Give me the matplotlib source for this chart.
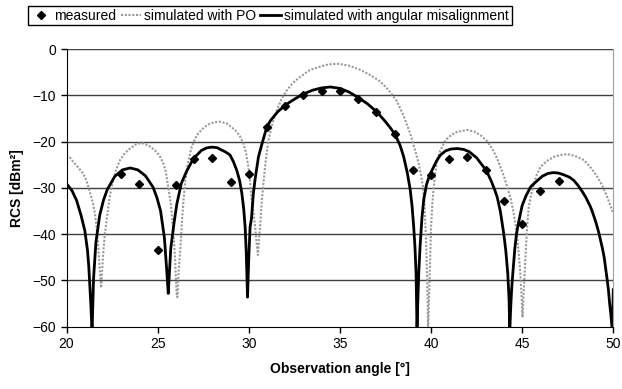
import matplotlib.pyplot as plt
import numpy as np

plt.rcParams['font.family'] = ['Liberation Sans', 'DejaVu Sans']

# measured points
meas_x = [23, 24, 25, 26, 27, 28, 29, 30, 31, 32, 33, 34, 35, 36, 37, 38, 39,
          40, 41, 42, 43, 44, 45, 46, 47]
meas_y = [-27.1, -29.2, -43.4, -29.4, -23.7, -23.5, -28.7, -26.9, -16.8, -12.3,
          -10.0, -9.1, -9.1, -10.7, -13.6, -18.4, -26.2, -27.3, -23.7, -23.4,
          -26.1, -32.8, -37.7, -30.7, -28.5]

# simulated with PO
po_x = [20.0, 20.2, 20.37, 20.6, 20.91, 21.1, 21.28, 21.45, 21.56, 21.65, 21.74, 21.82, 21.9,
        21.95, 22.01, 22.1, 22.2, 22.33, 22.47, 22.7, 22.93, 23.2, 23.48, 23.8, 24.12,
        24.5, 24.85, 25.1, 25.31, 25.45, 25.58, 25.72, 25.86, 25.95, 26.04, 26.08,
        26.15, 26.23, 26.33, 26.42, 26.52, 26.65, 26.87, 27.05, 27.23, 27.55, 27.87,
        28.15, 28.42, 28.8, 29.25, 29.5, 29.7, 29.85, 29.98, 30.08, 30.16, 30.27,
        30.35, 30.43, 30.5,
        30.56, 30.62, 30.7, 30.8, 30.93, 31.08, 31.3, 31.54, 31.8, 32.09, 32.4, 32.82,
        33.37, 33.92, 34.4, 34.92, 35.5, 36.12, 36.7, 37.21, 37.7, 38.13, 38.5, 38.86,
        39.1, 39.32, 39.45, 39.56, 39.64, 39.69, 39.74, 39.78, 39.81, 39.84,
        39.88, 39.93, 40.0, 40.07, 40.15, 40.23, 40.33, 40.5, 40.79, 41.1, 41.43, 41.98,
        42.35, 42.71, 43.05, 43.35, 43.6, 43.81, 44.0, 44.18, 44.38, 44.54, 44.7,
        44.81, 44.88, 44.95, 45.02,
        45.09, 45.18, 45.27, 45.36, 45.5, 45.64, 45.8, 46.0, 46.35, 46.74, 47.1, 47.47,
        47.9, 48.39, 48.8, 49.12, 49.4, 49.67, 50.0]
po_y = [-22.9, -23.5, -24.4, -25.4, -26.9, -28.5, -30.9, -33.3, -35.6, -38.5, -42.8, -47.5, -51.6,
        -48.0, -44.2, -40.0, -37.0, -33.0, -29.8, -26.3, -24.0, -22.5, -21.5, -20.6, -20.3,
        -20.8, -21.9, -23.0, -24.7, -26.6, -29.8, -33.5, -39.2, -45.0, -52.9, -53.6,
        -48.0, -44.2, -37.5, -32.5, -28.3, -24.8, -21.1, -19.4, -18.2, -16.9, -16.1,
        -15.8, -15.7, -16.1, -17.5, -18.7, -20.4, -22.5, -25.5, -29.0, -32.7, -35.8,
        -38.5, -42.0, -44.5,
        -41.0, -38.5, -33.5, -29.1, -24.0, -19.7, -16.0, -13.2, -10.8, -8.9, -7.4, -6.0,
        -4.5, -3.8, -3.3, -3.2, -3.6, -4.5, -5.7, -7.0, -9.0, -11.3, -14.5, -18.3,
        -21.5, -24.7, -27.3, -29.8, -33.5, -38.5, -43.0, -48.6, -54.0, -61.0,
        -55.0, -48.6, -38.5, -33.5, -29.8, -27.0, -24.0, -22.0, -19.7, -18.6, -17.9, -17.5,
        -17.8, -18.6, -19.8, -21.5, -23.4, -25.5, -27.5, -29.8, -32.5, -35.6, -39.5,
        -44.2, -47.5, -52.0, -58.0,
        -52.0, -45.0, -38.5, -34.1, -31.3, -29.1, -27.2, -25.5, -24.2, -23.3, -22.9, -22.7,
        -23.1, -24.0, -25.8, -27.6, -29.5, -32.0, -35.5]

# simulated with angular misalignment
mis_x = [20.0, 20.3, 20.55, 20.8, 21.0, 21.15, 21.22, 21.28, 21.33, 21.4,
         21.48, 21.61, 21.82, 22.03, 22.24, 22.65, 23.07, 23.49, 23.91, 24.33, 24.74,
         24.95, 25.16, 25.37, 25.5, 25.58,
         25.66, 25.72, 25.8, 25.9, 26.05, 26.3, 26.6, 26.96, 27.4, 27.7, 27.97, 28.25,
         28.5, 28.75, 28.97, 29.15, 29.34, 29.5, 29.62, 29.72, 29.8, 29.86, 29.89, 29.93,
         30.0, 30.07, 30.15, 30.25, 30.35, 30.53, 30.7, 30.99, 31.2, 31.6, 31.9, 32.2,
         32.6, 33.0, 33.5, 34.0, 34.47, 35.0, 35.5, 35.93, 36.5, 37.03, 37.5, 37.8,
         38.04, 38.3, 38.5, 38.7, 38.86, 38.96, 39.05, 39.12, 39.18, 39.23,
         39.27, 39.33, 39.4, 39.5, 39.6, 39.75, 39.9, 40.05, 40.3, 40.51, 40.8, 41.1,
         41.45, 41.8, 42.1, 42.5, 42.89, 43.1, 43.3, 43.5, 43.63, 43.8, 43.99, 44.1,
         44.21, 44.28, 44.32,
         44.37, 44.42, 44.5, 44.6, 44.69, 44.8, 45.0, 45.2, 45.46, 45.64, 45.9, 46.1,
         46.4, 46.7, 47.0, 47.3, 47.6, 47.84, 48.05, 48.3, 48.5, 48.75, 48.9, 49.05,
         49.2, 49.3, 49.4, 49.5, 49.58, 49.67, 49.74, 49.8, 49.87, 49.95, 50.0]
mis_y = [-29.1, -30.6, -32.7, -36.0, -39.2, -43.5, -47.0, -51.4, -55.0, -61.0,
         -49.7, -41.8, -35.9, -32.6, -30.3, -27.5, -26.1, -25.7, -26.1, -27.4, -29.8,
         -32.0, -35.0, -40.8, -48.0, -52.8,
         -47.0, -43.0, -40.5, -37.5, -33.5, -29.0, -26.3, -23.7, -21.9, -21.35, -21.2, -21.3,
         -21.8, -22.3, -22.9, -24.3, -26.2, -28.5, -31.2, -34.5, -38.5, -44.0, -48.5, -53.6,
         -45.0, -38.5, -36.5, -31.2, -28.0, -23.3, -20.8, -16.8, -15.4, -13.5, -12.5, -11.6,
         -10.6, -9.7, -8.9, -8.4, -8.2, -8.5, -9.3, -10.3, -11.8, -13.6, -15.7, -17.2,
         -18.6, -20.8, -23.3, -26.8, -30.5, -34.0, -38.5, -43.0, -48.6, -61.0,
         -55.0, -48.0, -42.5, -36.5, -32.5, -29.3, -27.5, -26.2, -24.2, -22.9, -22.0, -21.6,
         -21.5, -21.7, -22.2, -23.5, -25.5, -26.8, -28.5, -30.5, -32.0, -35.0, -39.9, -43.5,
         -48.5, -54.0, -61.0,
         -56.0, -52.0, -47.8, -43.0, -39.9, -37.5, -33.8, -31.8, -29.8, -29.1, -28.2, -27.5,
         -26.9, -26.7, -26.8, -27.2, -27.7, -28.4, -29.4, -30.8, -32.1, -34.1, -35.7, -37.5,
         -39.6, -41.3, -43.0, -45.0, -47.3, -50.0, -52.3, -55.0, -57.5, -61.0, -52.0]

fig = plt.figure(figsize=(6.22, 3.89), dpi=100)
ax = fig.add_axes([0.107, 0.160, 0.879, 0.714])

for yy in range(-50, 1, 10):
    ax.axhline(yy, color='#404040', lw=1, zorder=0)

l_po, = ax.plot(po_x, po_y, color='#999999', ls=(0, (1, 0.8)), lw=1.5)
l_mis, = ax.plot(mis_x, mis_y, color='black', lw=2)
l_meas, = ax.plot(meas_x, meas_y, 'D', color='black', ms=4.5, ls='none')

ax.set_xlim(20, 50)
ax.set_ylim(-60, 0)
ax.set_xticks(np.arange(20, 51, 5))
ax.set_yticks(np.arange(-60, 1, 10))
ax.tick_params(labelsize=10, direction='out', length=4, width=1, color='black')
ax.spines['top'].set_visible(False)
ax.spines['right'].set_color('#a0a0a0')
ax.spines['left'].set_color('black')
ax.spines['bottom'].set_color('black')

ax.set_xlabel('Observation angle [°]', fontsize=10, fontweight='bold', labelpad=8)
ax.set_ylabel('RCS [dBm²]', fontsize=10, fontweight='bold', labelpad=6)

leg = fig.legend([l_meas, l_po, l_mis],
                 ['measured', 'simulated with PO', 'simulated with angular misalignment'],
                 loc='upper left', bbox_to_anchor=(0.045, 0.985), ncol=3,
                 fontsize=10, frameon=True, fancybox=False, edgecolor='black',
                 framealpha=1, borderpad=0.2, handlelength=1.5, handletextpad=0.2,
                 columnspacing=0.3, borderaxespad=0)
leg.get_frame().set_linewidth(1)

fig.savefig('out.png', dpi=100)
